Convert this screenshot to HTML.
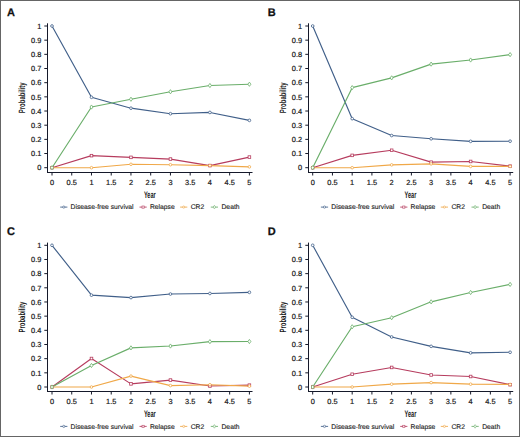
<!DOCTYPE html>
<html><head><meta charset="utf-8"><style>
html,body{margin:0;padding:0;background:#fff;}
body{width:520px;height:437px;overflow:hidden;}
svg{display:block;}
text{font-family:"Liberation Sans",sans-serif;text-rendering:geometricPrecision;}
.pl{font-size:11px;font-weight:bold;fill:#111;stroke:#111;stroke-width:0.25px;}
.tk{font-size:7.4px;fill:#151515;stroke:#151515;stroke-width:0.18px;}
.at{font-size:9.1px;font-weight:bold;fill:#1a1a1a;}
.lg{font-size:6.75px;fill:#1a1a1a;stroke:#1a1a1a;stroke-width:0.12px;}
</style></head><body>
<svg width="520" height="437" viewBox="0 0 520 437">
<rect x="0" y="0" width="520" height="437" fill="#fff"/>

<g transform="translate(0,0)">
<text x="7" y="15.8" class="pl">A</text>
<path d="M47.5 23.3V173" stroke="#15192a" stroke-width="1" fill="none"/>
<path d="M47 172.5H252.5" stroke="#15192a" stroke-width="1.1" fill="none"/>
<path d="M44.3 167.7H47.5" stroke="#15192a" stroke-width="1" fill="none"/>
<text x="41.4" y="170.4" class="tk" text-anchor="end">0</text>
<path d="M44.3 153.53H47.5" stroke="#15192a" stroke-width="1" fill="none"/>
<text x="41.4" y="156.23" class="tk" text-anchor="end">0.1</text>
<path d="M44.3 139.36H47.5" stroke="#15192a" stroke-width="1" fill="none"/>
<text x="41.4" y="142.06" class="tk" text-anchor="end">0.2</text>
<path d="M44.3 125.19H47.5" stroke="#15192a" stroke-width="1" fill="none"/>
<text x="41.4" y="127.89" class="tk" text-anchor="end">0.3</text>
<path d="M44.3 111.02H47.5" stroke="#15192a" stroke-width="1" fill="none"/>
<text x="41.4" y="113.72" class="tk" text-anchor="end">0.4</text>
<path d="M44.3 96.85H47.5" stroke="#15192a" stroke-width="1" fill="none"/>
<text x="41.4" y="99.55" class="tk" text-anchor="end">0.5</text>
<path d="M44.3 82.68H47.5" stroke="#15192a" stroke-width="1" fill="none"/>
<text x="41.4" y="85.38" class="tk" text-anchor="end">0.6</text>
<path d="M44.3 68.51H47.5" stroke="#15192a" stroke-width="1" fill="none"/>
<text x="41.4" y="71.21" class="tk" text-anchor="end">0.7</text>
<path d="M44.3 54.34H47.5" stroke="#15192a" stroke-width="1" fill="none"/>
<text x="41.4" y="57.04" class="tk" text-anchor="end">0.8</text>
<path d="M44.3 40.17H47.5" stroke="#15192a" stroke-width="1" fill="none"/>
<text x="41.4" y="42.87" class="tk" text-anchor="end">0.9</text>
<path d="M44.3 26H47.5" stroke="#15192a" stroke-width="1" fill="none"/>
<text x="41.4" y="28.7" class="tk" text-anchor="end">1</text>
<path d="M52 172.5V175.5" stroke="#15192a" stroke-width="1" fill="none"/>
<text x="52" y="184.9" class="tk" text-anchor="middle">0</text>
<path d="M71.74 172.5V175.5" stroke="#15192a" stroke-width="1" fill="none"/>
<text x="71.74" y="184.9" class="tk" text-anchor="middle">0.5</text>
<path d="M91.48 172.5V175.5" stroke="#15192a" stroke-width="1" fill="none"/>
<text x="91.48" y="184.9" class="tk" text-anchor="middle">1</text>
<path d="M111.22 172.5V175.5" stroke="#15192a" stroke-width="1" fill="none"/>
<text x="111.22" y="184.9" class="tk" text-anchor="middle">1.5</text>
<path d="M130.96 172.5V175.5" stroke="#15192a" stroke-width="1" fill="none"/>
<text x="130.96" y="184.9" class="tk" text-anchor="middle">2</text>
<path d="M150.7 172.5V175.5" stroke="#15192a" stroke-width="1" fill="none"/>
<text x="150.7" y="184.9" class="tk" text-anchor="middle">2.5</text>
<path d="M170.44 172.5V175.5" stroke="#15192a" stroke-width="1" fill="none"/>
<text x="170.44" y="184.9" class="tk" text-anchor="middle">3</text>
<path d="M190.18 172.5V175.5" stroke="#15192a" stroke-width="1" fill="none"/>
<text x="190.18" y="184.9" class="tk" text-anchor="middle">3.5</text>
<path d="M209.92 172.5V175.5" stroke="#15192a" stroke-width="1" fill="none"/>
<text x="209.92" y="184.9" class="tk" text-anchor="middle">4</text>
<path d="M229.66 172.5V175.5" stroke="#15192a" stroke-width="1" fill="none"/>
<text x="229.66" y="184.9" class="tk" text-anchor="middle">4.5</text>
<path d="M249.4 172.5V175.5" stroke="#15192a" stroke-width="1" fill="none"/>
<text x="249.4" y="184.9" class="tk" text-anchor="middle">5</text>
<text x="0" y="0" class="at" text-anchor="middle" style="font-size:9.6px" transform="translate(149.8,197.6) scale(0.58,1)">Year</text>
<text x="0" y="0" class="at" text-anchor="middle" transform="translate(25.1,97.8) rotate(-90) scale(0.655,1)">Probability</text>
<path d="M52 26L91.48 97.28L130.96 108.19L170.44 113.71L209.92 112.44L249.4 120.37" stroke="#405f89" stroke-width="1.15" fill="none" stroke-linejoin="round"/>
<path d="M52 167.7L91.48 155.66L130.96 157.36L170.44 159.06L209.92 165.57L249.4 157.07" stroke="#b63c5e" stroke-width="1.15" fill="none" stroke-linejoin="round"/>
<path d="M52 167.7L91.48 167.7L130.96 164.3L170.44 164.72L209.92 165.57L249.4 166.85" stroke="#f0a848" stroke-width="1.15" fill="none" stroke-linejoin="round"/>
<path d="M52 167.7L91.48 107.05L130.96 99.26L170.44 91.75L209.92 85.51L249.4 84.24" stroke="#6aae6a" stroke-width="1.15" fill="none" stroke-linejoin="round"/>
<circle cx="52" cy="26" r="1.35" fill="#fff" stroke="#405f89" stroke-width="0.8"/>
<circle cx="91.48" cy="97.28" r="1.35" fill="#fff" stroke="#405f89" stroke-width="0.8"/>
<circle cx="130.96" cy="108.19" r="1.35" fill="#fff" stroke="#405f89" stroke-width="0.8"/>
<circle cx="170.44" cy="113.71" r="1.35" fill="#fff" stroke="#405f89" stroke-width="0.8"/>
<circle cx="209.92" cy="112.44" r="1.35" fill="#fff" stroke="#405f89" stroke-width="0.8"/>
<circle cx="249.4" cy="120.37" r="1.35" fill="#fff" stroke="#405f89" stroke-width="0.8"/>
<rect x="50.7" y="166.4" width="2.6" height="2.6" fill="#fff" stroke="#b63c5e" stroke-width="0.8"/>
<rect x="90.18" y="154.36" width="2.6" height="2.6" fill="#fff" stroke="#b63c5e" stroke-width="0.8"/>
<rect x="129.66" y="156.06" width="2.6" height="2.6" fill="#fff" stroke="#b63c5e" stroke-width="0.8"/>
<rect x="169.14" y="157.76" width="2.6" height="2.6" fill="#fff" stroke="#b63c5e" stroke-width="0.8"/>
<rect x="208.62" y="164.27" width="2.6" height="2.6" fill="#fff" stroke="#b63c5e" stroke-width="0.8"/>
<rect x="248.1" y="155.77" width="2.6" height="2.6" fill="#fff" stroke="#b63c5e" stroke-width="0.8"/>
<circle cx="52" cy="167.7" r="1.3" fill="#fff" stroke="#f0a848" stroke-width="0.8"/>
<circle cx="91.48" cy="167.7" r="1.3" fill="#fff" stroke="#f0a848" stroke-width="0.8"/>
<circle cx="130.96" cy="164.3" r="1.3" fill="#fff" stroke="#f0a848" stroke-width="0.8"/>
<circle cx="170.44" cy="164.72" r="1.3" fill="#fff" stroke="#f0a848" stroke-width="0.8"/>
<circle cx="209.92" cy="165.57" r="1.3" fill="#fff" stroke="#f0a848" stroke-width="0.8"/>
<circle cx="249.4" cy="166.85" r="1.3" fill="#fff" stroke="#f0a848" stroke-width="0.8"/>
<path d="M52 165.6L53.5 167.7L52 169.8L50.5 167.7Z" fill="#fff" stroke="#6aae6a" stroke-width="0.8"/>
<path d="M91.48 104.95L92.98 107.05L91.48 109.15L89.98 107.05Z" fill="#fff" stroke="#6aae6a" stroke-width="0.8"/>
<path d="M130.96 97.16L132.46 99.26L130.96 101.36L129.46 99.26Z" fill="#fff" stroke="#6aae6a" stroke-width="0.8"/>
<path d="M170.44 89.65L171.94 91.75L170.44 93.85L168.94 91.75Z" fill="#fff" stroke="#6aae6a" stroke-width="0.8"/>
<path d="M209.92 83.41L211.42 85.51L209.92 87.61L208.42 85.51Z" fill="#fff" stroke="#6aae6a" stroke-width="0.8"/>
<path d="M249.4 82.14L250.9 84.24L249.4 86.34L247.9 84.24Z" fill="#fff" stroke="#6aae6a" stroke-width="0.8"/>
<path d="M60.2 207.1H67.4" stroke="#405f89" stroke-width="1" fill="none" opacity="0.85"/>
<g transform="translate(63.8,207.1) scale(0.85)" opacity="0.85"><circle cx="0" cy="0" r="1.35" fill="#fff" stroke="#405f89" stroke-width="0.8"/></g>
<text x="70.6" y="209.4" class="lg">Disease-free survival</text>
<path d="M139.5 207.1H146.7" stroke="#b63c5e" stroke-width="1" fill="none" opacity="0.85"/>
<g transform="translate(143.1,207.1) scale(0.85)" opacity="0.85"><rect x="-1.3" y="-1.3" width="2.6" height="2.6" fill="#fff" stroke="#b63c5e" stroke-width="0.8"/></g>
<text x="149.9" y="209.4" class="lg">Relapse</text>
<path d="M180.1 207.1H187.3" stroke="#f0a848" stroke-width="1" fill="none" opacity="0.85"/>
<g transform="translate(183.7,207.1) scale(0.85)" opacity="0.85"><circle cx="0" cy="0" r="1.3" fill="#fff" stroke="#f0a848" stroke-width="0.8"/></g>
<text x="190.7" y="209.4" class="lg">CR2</text>
<path d="M210.8 207.1H218" stroke="#6aae6a" stroke-width="1" fill="none" opacity="0.85"/>
<g transform="translate(214.4,207.1) scale(0.85)" opacity="0.85"><path d="M0 -2.1L1.5 0L0 2.1L-1.5 0Z" fill="#fff" stroke="#6aae6a" stroke-width="0.8"/></g>
<text x="221.5" y="209.4" class="lg">Death</text>
</g>
<g transform="translate(260.7,0)">
<text x="7" y="15.8" class="pl">B</text>
<path d="M47.8 23.3V173" stroke="#15192a" stroke-width="1" fill="none"/>
<path d="M47.3 172.5H252.5" stroke="#15192a" stroke-width="1.1" fill="none"/>
<path d="M44.6 167.7H47.8" stroke="#15192a" stroke-width="1" fill="none"/>
<text x="41.4" y="170.4" class="tk" text-anchor="end">0</text>
<path d="M44.6 153.53H47.8" stroke="#15192a" stroke-width="1" fill="none"/>
<text x="41.4" y="156.23" class="tk" text-anchor="end">0.1</text>
<path d="M44.6 139.36H47.8" stroke="#15192a" stroke-width="1" fill="none"/>
<text x="41.4" y="142.06" class="tk" text-anchor="end">0.2</text>
<path d="M44.6 125.19H47.8" stroke="#15192a" stroke-width="1" fill="none"/>
<text x="41.4" y="127.89" class="tk" text-anchor="end">0.3</text>
<path d="M44.6 111.02H47.8" stroke="#15192a" stroke-width="1" fill="none"/>
<text x="41.4" y="113.72" class="tk" text-anchor="end">0.4</text>
<path d="M44.6 96.85H47.8" stroke="#15192a" stroke-width="1" fill="none"/>
<text x="41.4" y="99.55" class="tk" text-anchor="end">0.5</text>
<path d="M44.6 82.68H47.8" stroke="#15192a" stroke-width="1" fill="none"/>
<text x="41.4" y="85.38" class="tk" text-anchor="end">0.6</text>
<path d="M44.6 68.51H47.8" stroke="#15192a" stroke-width="1" fill="none"/>
<text x="41.4" y="71.21" class="tk" text-anchor="end">0.7</text>
<path d="M44.6 54.34H47.8" stroke="#15192a" stroke-width="1" fill="none"/>
<text x="41.4" y="57.04" class="tk" text-anchor="end">0.8</text>
<path d="M44.6 40.17H47.8" stroke="#15192a" stroke-width="1" fill="none"/>
<text x="41.4" y="42.87" class="tk" text-anchor="end">0.9</text>
<path d="M44.6 26H47.8" stroke="#15192a" stroke-width="1" fill="none"/>
<text x="41.4" y="28.7" class="tk" text-anchor="end">1</text>
<path d="M52 172.5V175.5" stroke="#15192a" stroke-width="1" fill="none"/>
<text x="52" y="184.9" class="tk" text-anchor="middle">0</text>
<path d="M71.74 172.5V175.5" stroke="#15192a" stroke-width="1" fill="none"/>
<text x="71.74" y="184.9" class="tk" text-anchor="middle">0.5</text>
<path d="M91.48 172.5V175.5" stroke="#15192a" stroke-width="1" fill="none"/>
<text x="91.48" y="184.9" class="tk" text-anchor="middle">1</text>
<path d="M111.22 172.5V175.5" stroke="#15192a" stroke-width="1" fill="none"/>
<text x="111.22" y="184.9" class="tk" text-anchor="middle">1.5</text>
<path d="M130.96 172.5V175.5" stroke="#15192a" stroke-width="1" fill="none"/>
<text x="130.96" y="184.9" class="tk" text-anchor="middle">2</text>
<path d="M150.7 172.5V175.5" stroke="#15192a" stroke-width="1" fill="none"/>
<text x="150.7" y="184.9" class="tk" text-anchor="middle">2.5</text>
<path d="M170.44 172.5V175.5" stroke="#15192a" stroke-width="1" fill="none"/>
<text x="170.44" y="184.9" class="tk" text-anchor="middle">3</text>
<path d="M190.18 172.5V175.5" stroke="#15192a" stroke-width="1" fill="none"/>
<text x="190.18" y="184.9" class="tk" text-anchor="middle">3.5</text>
<path d="M209.92 172.5V175.5" stroke="#15192a" stroke-width="1" fill="none"/>
<text x="209.92" y="184.9" class="tk" text-anchor="middle">4</text>
<path d="M229.66 172.5V175.5" stroke="#15192a" stroke-width="1" fill="none"/>
<text x="229.66" y="184.9" class="tk" text-anchor="middle">4.5</text>
<path d="M249.4 172.5V175.5" stroke="#15192a" stroke-width="1" fill="none"/>
<text x="249.4" y="184.9" class="tk" text-anchor="middle">5</text>
<text x="0" y="0" class="at" text-anchor="middle" style="font-size:9.6px" transform="translate(149.8,197.6) scale(0.58,1)">Year</text>
<text x="0" y="0" class="at" text-anchor="middle" transform="translate(25.1,97.8) rotate(-90) scale(0.655,1)">Probability</text>
<path d="M52 26L91.48 118.67L130.96 135.53L170.44 138.79L209.92 141.34L249.4 141.2" stroke="#405f89" stroke-width="1.15" fill="none" stroke-linejoin="round"/>
<path d="M52 167.7L91.48 155.37L130.96 150.27L170.44 162.17L209.92 161.47L249.4 166.14" stroke="#b63c5e" stroke-width="1.15" fill="none" stroke-linejoin="round"/>
<path d="M52 167.7L91.48 167.7L130.96 164.87L170.44 163.87L209.92 166.42L249.4 166.42" stroke="#f0a848" stroke-width="1.15" fill="none" stroke-linejoin="round"/>
<path d="M52 167.7L91.48 87.64L130.96 77.86L170.44 64.12L209.92 60.01L249.4 54.62" stroke="#6aae6a" stroke-width="1.15" fill="none" stroke-linejoin="round"/>
<circle cx="52" cy="26" r="1.35" fill="#fff" stroke="#405f89" stroke-width="0.8"/>
<circle cx="91.48" cy="118.67" r="1.35" fill="#fff" stroke="#405f89" stroke-width="0.8"/>
<circle cx="130.96" cy="135.53" r="1.35" fill="#fff" stroke="#405f89" stroke-width="0.8"/>
<circle cx="170.44" cy="138.79" r="1.35" fill="#fff" stroke="#405f89" stroke-width="0.8"/>
<circle cx="209.92" cy="141.34" r="1.35" fill="#fff" stroke="#405f89" stroke-width="0.8"/>
<circle cx="249.4" cy="141.2" r="1.35" fill="#fff" stroke="#405f89" stroke-width="0.8"/>
<rect x="50.7" y="166.4" width="2.6" height="2.6" fill="#fff" stroke="#b63c5e" stroke-width="0.8"/>
<rect x="90.18" y="154.07" width="2.6" height="2.6" fill="#fff" stroke="#b63c5e" stroke-width="0.8"/>
<rect x="129.66" y="148.97" width="2.6" height="2.6" fill="#fff" stroke="#b63c5e" stroke-width="0.8"/>
<rect x="169.14" y="160.87" width="2.6" height="2.6" fill="#fff" stroke="#b63c5e" stroke-width="0.8"/>
<rect x="208.62" y="160.17" width="2.6" height="2.6" fill="#fff" stroke="#b63c5e" stroke-width="0.8"/>
<rect x="248.1" y="164.84" width="2.6" height="2.6" fill="#fff" stroke="#b63c5e" stroke-width="0.8"/>
<circle cx="52" cy="167.7" r="1.3" fill="#fff" stroke="#f0a848" stroke-width="0.8"/>
<circle cx="91.48" cy="167.7" r="1.3" fill="#fff" stroke="#f0a848" stroke-width="0.8"/>
<circle cx="130.96" cy="164.87" r="1.3" fill="#fff" stroke="#f0a848" stroke-width="0.8"/>
<circle cx="170.44" cy="163.87" r="1.3" fill="#fff" stroke="#f0a848" stroke-width="0.8"/>
<circle cx="209.92" cy="166.42" r="1.3" fill="#fff" stroke="#f0a848" stroke-width="0.8"/>
<circle cx="249.4" cy="166.42" r="1.3" fill="#fff" stroke="#f0a848" stroke-width="0.8"/>
<path d="M52 165.6L53.5 167.7L52 169.8L50.5 167.7Z" fill="#fff" stroke="#6aae6a" stroke-width="0.8"/>
<path d="M91.48 85.54L92.98 87.64L91.48 89.74L89.98 87.64Z" fill="#fff" stroke="#6aae6a" stroke-width="0.8"/>
<path d="M130.96 75.76L132.46 77.86L130.96 79.96L129.46 77.86Z" fill="#fff" stroke="#6aae6a" stroke-width="0.8"/>
<path d="M170.44 62.02L171.94 64.12L170.44 66.22L168.94 64.12Z" fill="#fff" stroke="#6aae6a" stroke-width="0.8"/>
<path d="M209.92 57.91L211.42 60.01L209.92 62.11L208.42 60.01Z" fill="#fff" stroke="#6aae6a" stroke-width="0.8"/>
<path d="M249.4 52.52L250.9 54.62L249.4 56.72L247.9 54.62Z" fill="#fff" stroke="#6aae6a" stroke-width="0.8"/>
<path d="M60.2 207.1H67.4" stroke="#405f89" stroke-width="1" fill="none" opacity="0.85"/>
<g transform="translate(63.8,207.1) scale(0.85)" opacity="0.85"><circle cx="0" cy="0" r="1.35" fill="#fff" stroke="#405f89" stroke-width="0.8"/></g>
<text x="70.6" y="209.4" class="lg">Disease-free survival</text>
<path d="M139.5 207.1H146.7" stroke="#b63c5e" stroke-width="1" fill="none" opacity="0.85"/>
<g transform="translate(143.1,207.1) scale(0.85)" opacity="0.85"><rect x="-1.3" y="-1.3" width="2.6" height="2.6" fill="#fff" stroke="#b63c5e" stroke-width="0.8"/></g>
<text x="149.9" y="209.4" class="lg">Relapse</text>
<path d="M180.1 207.1H187.3" stroke="#f0a848" stroke-width="1" fill="none" opacity="0.85"/>
<g transform="translate(183.7,207.1) scale(0.85)" opacity="0.85"><circle cx="0" cy="0" r="1.3" fill="#fff" stroke="#f0a848" stroke-width="0.8"/></g>
<text x="190.7" y="209.4" class="lg">CR2</text>
<path d="M210.8 207.1H218" stroke="#6aae6a" stroke-width="1" fill="none" opacity="0.85"/>
<g transform="translate(214.4,207.1) scale(0.85)" opacity="0.85"><path d="M0 -2.1L1.5 0L0 2.1L-1.5 0Z" fill="#fff" stroke="#6aae6a" stroke-width="0.8"/></g>
<text x="221.5" y="209.4" class="lg">Death</text>
</g>
<g transform="translate(0,219.3)">
<text x="7" y="15.8" class="pl">C</text>
<path d="M47.5 23.3V172.7" stroke="#15192a" stroke-width="1" fill="none"/>
<path d="M47 172.2H252.5" stroke="#15192a" stroke-width="1.1" fill="none"/>
<path d="M44.3 167.7H47.5" stroke="#15192a" stroke-width="1" fill="none"/>
<text x="41.4" y="170.4" class="tk" text-anchor="end">0</text>
<path d="M44.3 153.53H47.5" stroke="#15192a" stroke-width="1" fill="none"/>
<text x="41.4" y="156.23" class="tk" text-anchor="end">0.1</text>
<path d="M44.3 139.36H47.5" stroke="#15192a" stroke-width="1" fill="none"/>
<text x="41.4" y="142.06" class="tk" text-anchor="end">0.2</text>
<path d="M44.3 125.19H47.5" stroke="#15192a" stroke-width="1" fill="none"/>
<text x="41.4" y="127.89" class="tk" text-anchor="end">0.3</text>
<path d="M44.3 111.02H47.5" stroke="#15192a" stroke-width="1" fill="none"/>
<text x="41.4" y="113.72" class="tk" text-anchor="end">0.4</text>
<path d="M44.3 96.85H47.5" stroke="#15192a" stroke-width="1" fill="none"/>
<text x="41.4" y="99.55" class="tk" text-anchor="end">0.5</text>
<path d="M44.3 82.68H47.5" stroke="#15192a" stroke-width="1" fill="none"/>
<text x="41.4" y="85.38" class="tk" text-anchor="end">0.6</text>
<path d="M44.3 68.51H47.5" stroke="#15192a" stroke-width="1" fill="none"/>
<text x="41.4" y="71.21" class="tk" text-anchor="end">0.7</text>
<path d="M44.3 54.34H47.5" stroke="#15192a" stroke-width="1" fill="none"/>
<text x="41.4" y="57.04" class="tk" text-anchor="end">0.8</text>
<path d="M44.3 40.17H47.5" stroke="#15192a" stroke-width="1" fill="none"/>
<text x="41.4" y="42.87" class="tk" text-anchor="end">0.9</text>
<path d="M44.3 26H47.5" stroke="#15192a" stroke-width="1" fill="none"/>
<text x="41.4" y="28.7" class="tk" text-anchor="end">1</text>
<path d="M52 172.2V175.2" stroke="#15192a" stroke-width="1" fill="none"/>
<text x="52" y="184.9" class="tk" text-anchor="middle">0</text>
<path d="M71.74 172.2V175.2" stroke="#15192a" stroke-width="1" fill="none"/>
<text x="71.74" y="184.9" class="tk" text-anchor="middle">0.5</text>
<path d="M91.48 172.2V175.2" stroke="#15192a" stroke-width="1" fill="none"/>
<text x="91.48" y="184.9" class="tk" text-anchor="middle">1</text>
<path d="M111.22 172.2V175.2" stroke="#15192a" stroke-width="1" fill="none"/>
<text x="111.22" y="184.9" class="tk" text-anchor="middle">1.5</text>
<path d="M130.96 172.2V175.2" stroke="#15192a" stroke-width="1" fill="none"/>
<text x="130.96" y="184.9" class="tk" text-anchor="middle">2</text>
<path d="M150.7 172.2V175.2" stroke="#15192a" stroke-width="1" fill="none"/>
<text x="150.7" y="184.9" class="tk" text-anchor="middle">2.5</text>
<path d="M170.44 172.2V175.2" stroke="#15192a" stroke-width="1" fill="none"/>
<text x="170.44" y="184.9" class="tk" text-anchor="middle">3</text>
<path d="M190.18 172.2V175.2" stroke="#15192a" stroke-width="1" fill="none"/>
<text x="190.18" y="184.9" class="tk" text-anchor="middle">3.5</text>
<path d="M209.92 172.2V175.2" stroke="#15192a" stroke-width="1" fill="none"/>
<text x="209.92" y="184.9" class="tk" text-anchor="middle">4</text>
<path d="M229.66 172.2V175.2" stroke="#15192a" stroke-width="1" fill="none"/>
<text x="229.66" y="184.9" class="tk" text-anchor="middle">4.5</text>
<path d="M249.4 172.2V175.2" stroke="#15192a" stroke-width="1" fill="none"/>
<text x="249.4" y="184.9" class="tk" text-anchor="middle">5</text>
<text x="0" y="0" class="at" text-anchor="middle" style="font-size:9.6px" transform="translate(149.8,197.6) scale(0.58,1)">Year</text>
<text x="0" y="0" class="at" text-anchor="middle" transform="translate(25.1,97.8) rotate(-90) scale(0.655,1)">Probability</text>
<path d="M52 26L91.48 75.88L130.96 78.29L170.44 74.74L209.92 74.18L249.4 73.04" stroke="#405f89" stroke-width="1.15" fill="none" stroke-linejoin="round"/>
<path d="M52 167.7L91.48 139.22L130.96 164.58L170.44 160.76L209.92 166.71L249.4 165.86" stroke="#b63c5e" stroke-width="1.15" fill="none" stroke-linejoin="round"/>
<path d="M52 167.7L91.48 167.7L130.96 156.79L170.44 166.28L209.92 165.43L249.4 166.85" stroke="#f0a848" stroke-width="1.15" fill="none" stroke-linejoin="round"/>
<path d="M52 167.7L91.48 146.16L130.96 128.59L170.44 126.75L209.92 122.36L249.4 122.21" stroke="#6aae6a" stroke-width="1.15" fill="none" stroke-linejoin="round"/>
<circle cx="52" cy="26" r="1.35" fill="#fff" stroke="#405f89" stroke-width="0.8"/>
<circle cx="91.48" cy="75.88" r="1.35" fill="#fff" stroke="#405f89" stroke-width="0.8"/>
<circle cx="130.96" cy="78.29" r="1.35" fill="#fff" stroke="#405f89" stroke-width="0.8"/>
<circle cx="170.44" cy="74.74" r="1.35" fill="#fff" stroke="#405f89" stroke-width="0.8"/>
<circle cx="209.92" cy="74.18" r="1.35" fill="#fff" stroke="#405f89" stroke-width="0.8"/>
<circle cx="249.4" cy="73.04" r="1.35" fill="#fff" stroke="#405f89" stroke-width="0.8"/>
<rect x="50.7" y="166.4" width="2.6" height="2.6" fill="#fff" stroke="#b63c5e" stroke-width="0.8"/>
<rect x="90.18" y="137.92" width="2.6" height="2.6" fill="#fff" stroke="#b63c5e" stroke-width="0.8"/>
<rect x="129.66" y="163.28" width="2.6" height="2.6" fill="#fff" stroke="#b63c5e" stroke-width="0.8"/>
<rect x="169.14" y="159.46" width="2.6" height="2.6" fill="#fff" stroke="#b63c5e" stroke-width="0.8"/>
<rect x="208.62" y="165.41" width="2.6" height="2.6" fill="#fff" stroke="#b63c5e" stroke-width="0.8"/>
<rect x="248.1" y="164.56" width="2.6" height="2.6" fill="#fff" stroke="#b63c5e" stroke-width="0.8"/>
<circle cx="52" cy="167.7" r="1.3" fill="#fff" stroke="#f0a848" stroke-width="0.8"/>
<circle cx="91.48" cy="167.7" r="1.3" fill="#fff" stroke="#f0a848" stroke-width="0.8"/>
<circle cx="130.96" cy="156.79" r="1.3" fill="#fff" stroke="#f0a848" stroke-width="0.8"/>
<circle cx="170.44" cy="166.28" r="1.3" fill="#fff" stroke="#f0a848" stroke-width="0.8"/>
<circle cx="209.92" cy="165.43" r="1.3" fill="#fff" stroke="#f0a848" stroke-width="0.8"/>
<circle cx="249.4" cy="166.85" r="1.3" fill="#fff" stroke="#f0a848" stroke-width="0.8"/>
<path d="M52 165.6L53.5 167.7L52 169.8L50.5 167.7Z" fill="#fff" stroke="#6aae6a" stroke-width="0.8"/>
<path d="M91.48 144.06L92.98 146.16L91.48 148.26L89.98 146.16Z" fill="#fff" stroke="#6aae6a" stroke-width="0.8"/>
<path d="M130.96 126.49L132.46 128.59L130.96 130.69L129.46 128.59Z" fill="#fff" stroke="#6aae6a" stroke-width="0.8"/>
<path d="M170.44 124.65L171.94 126.75L170.44 128.85L168.94 126.75Z" fill="#fff" stroke="#6aae6a" stroke-width="0.8"/>
<path d="M209.92 120.26L211.42 122.36L209.92 124.46L208.42 122.36Z" fill="#fff" stroke="#6aae6a" stroke-width="0.8"/>
<path d="M249.4 120.11L250.9 122.21L249.4 124.31L247.9 122.21Z" fill="#fff" stroke="#6aae6a" stroke-width="0.8"/>
<path d="M60.2 207.1H67.4" stroke="#405f89" stroke-width="1" fill="none" opacity="0.85"/>
<g transform="translate(63.8,207.1) scale(0.85)" opacity="0.85"><circle cx="0" cy="0" r="1.35" fill="#fff" stroke="#405f89" stroke-width="0.8"/></g>
<text x="70.6" y="209.4" class="lg">Disease-free survival</text>
<path d="M139.5 207.1H146.7" stroke="#b63c5e" stroke-width="1" fill="none" opacity="0.85"/>
<g transform="translate(143.1,207.1) scale(0.85)" opacity="0.85"><rect x="-1.3" y="-1.3" width="2.6" height="2.6" fill="#fff" stroke="#b63c5e" stroke-width="0.8"/></g>
<text x="149.9" y="209.4" class="lg">Relapse</text>
<path d="M180.1 207.1H187.3" stroke="#f0a848" stroke-width="1" fill="none" opacity="0.85"/>
<g transform="translate(183.7,207.1) scale(0.85)" opacity="0.85"><circle cx="0" cy="0" r="1.3" fill="#fff" stroke="#f0a848" stroke-width="0.8"/></g>
<text x="190.7" y="209.4" class="lg">CR2</text>
<path d="M210.8 207.1H218" stroke="#6aae6a" stroke-width="1" fill="none" opacity="0.85"/>
<g transform="translate(214.4,207.1) scale(0.85)" opacity="0.85"><path d="M0 -2.1L1.5 0L0 2.1L-1.5 0Z" fill="#fff" stroke="#6aae6a" stroke-width="0.8"/></g>
<text x="221.5" y="209.4" class="lg">Death</text>
</g>
<g transform="translate(260.7,219.3)">
<text x="7" y="15.8" class="pl">D</text>
<path d="M47.8 23.3V172.7" stroke="#15192a" stroke-width="1" fill="none"/>
<path d="M47.3 172.2H252.5" stroke="#15192a" stroke-width="1.1" fill="none"/>
<path d="M44.6 167.7H47.8" stroke="#15192a" stroke-width="1" fill="none"/>
<text x="41.4" y="170.4" class="tk" text-anchor="end">0</text>
<path d="M44.6 153.53H47.8" stroke="#15192a" stroke-width="1" fill="none"/>
<text x="41.4" y="156.23" class="tk" text-anchor="end">0.1</text>
<path d="M44.6 139.36H47.8" stroke="#15192a" stroke-width="1" fill="none"/>
<text x="41.4" y="142.06" class="tk" text-anchor="end">0.2</text>
<path d="M44.6 125.19H47.8" stroke="#15192a" stroke-width="1" fill="none"/>
<text x="41.4" y="127.89" class="tk" text-anchor="end">0.3</text>
<path d="M44.6 111.02H47.8" stroke="#15192a" stroke-width="1" fill="none"/>
<text x="41.4" y="113.72" class="tk" text-anchor="end">0.4</text>
<path d="M44.6 96.85H47.8" stroke="#15192a" stroke-width="1" fill="none"/>
<text x="41.4" y="99.55" class="tk" text-anchor="end">0.5</text>
<path d="M44.6 82.68H47.8" stroke="#15192a" stroke-width="1" fill="none"/>
<text x="41.4" y="85.38" class="tk" text-anchor="end">0.6</text>
<path d="M44.6 68.51H47.8" stroke="#15192a" stroke-width="1" fill="none"/>
<text x="41.4" y="71.21" class="tk" text-anchor="end">0.7</text>
<path d="M44.6 54.34H47.8" stroke="#15192a" stroke-width="1" fill="none"/>
<text x="41.4" y="57.04" class="tk" text-anchor="end">0.8</text>
<path d="M44.6 40.17H47.8" stroke="#15192a" stroke-width="1" fill="none"/>
<text x="41.4" y="42.87" class="tk" text-anchor="end">0.9</text>
<path d="M44.6 26H47.8" stroke="#15192a" stroke-width="1" fill="none"/>
<text x="41.4" y="28.7" class="tk" text-anchor="end">1</text>
<path d="M52 172.2V175.2" stroke="#15192a" stroke-width="1" fill="none"/>
<text x="52" y="184.9" class="tk" text-anchor="middle">0</text>
<path d="M71.74 172.2V175.2" stroke="#15192a" stroke-width="1" fill="none"/>
<text x="71.74" y="184.9" class="tk" text-anchor="middle">0.5</text>
<path d="M91.48 172.2V175.2" stroke="#15192a" stroke-width="1" fill="none"/>
<text x="91.48" y="184.9" class="tk" text-anchor="middle">1</text>
<path d="M111.22 172.2V175.2" stroke="#15192a" stroke-width="1" fill="none"/>
<text x="111.22" y="184.9" class="tk" text-anchor="middle">1.5</text>
<path d="M130.96 172.2V175.2" stroke="#15192a" stroke-width="1" fill="none"/>
<text x="130.96" y="184.9" class="tk" text-anchor="middle">2</text>
<path d="M150.7 172.2V175.2" stroke="#15192a" stroke-width="1" fill="none"/>
<text x="150.7" y="184.9" class="tk" text-anchor="middle">2.5</text>
<path d="M170.44 172.2V175.2" stroke="#15192a" stroke-width="1" fill="none"/>
<text x="170.44" y="184.9" class="tk" text-anchor="middle">3</text>
<path d="M190.18 172.2V175.2" stroke="#15192a" stroke-width="1" fill="none"/>
<text x="190.18" y="184.9" class="tk" text-anchor="middle">3.5</text>
<path d="M209.92 172.2V175.2" stroke="#15192a" stroke-width="1" fill="none"/>
<text x="209.92" y="184.9" class="tk" text-anchor="middle">4</text>
<path d="M229.66 172.2V175.2" stroke="#15192a" stroke-width="1" fill="none"/>
<text x="229.66" y="184.9" class="tk" text-anchor="middle">4.5</text>
<path d="M249.4 172.2V175.2" stroke="#15192a" stroke-width="1" fill="none"/>
<text x="249.4" y="184.9" class="tk" text-anchor="middle">5</text>
<text x="0" y="0" class="at" text-anchor="middle" style="font-size:9.6px" transform="translate(149.8,197.6) scale(0.58,1)">Year</text>
<text x="0" y="0" class="at" text-anchor="middle" transform="translate(25.1,97.8) rotate(-90) scale(0.655,1)">Probability</text>
<path d="M52 26L91.48 97.98L130.96 117.68L170.44 127.03L209.92 133.55L249.4 132.98" stroke="#405f89" stroke-width="1.15" fill="none" stroke-linejoin="round"/>
<path d="M52 167.7L91.48 154.95L130.96 148.15L170.44 155.66L209.92 157.21L249.4 165.43" stroke="#b63c5e" stroke-width="1.15" fill="none" stroke-linejoin="round"/>
<path d="M52 167.7L91.48 167.7L130.96 164.87L170.44 163.31L209.92 164.87L249.4 165.15" stroke="#f0a848" stroke-width="1.15" fill="none" stroke-linejoin="round"/>
<path d="M52 167.7L91.48 107.48L130.96 98.41L170.44 82.54L209.92 73.19L249.4 65.11" stroke="#6aae6a" stroke-width="1.15" fill="none" stroke-linejoin="round"/>
<circle cx="52" cy="26" r="1.35" fill="#fff" stroke="#405f89" stroke-width="0.8"/>
<circle cx="91.48" cy="97.98" r="1.35" fill="#fff" stroke="#405f89" stroke-width="0.8"/>
<circle cx="130.96" cy="117.68" r="1.35" fill="#fff" stroke="#405f89" stroke-width="0.8"/>
<circle cx="170.44" cy="127.03" r="1.35" fill="#fff" stroke="#405f89" stroke-width="0.8"/>
<circle cx="209.92" cy="133.55" r="1.35" fill="#fff" stroke="#405f89" stroke-width="0.8"/>
<circle cx="249.4" cy="132.98" r="1.35" fill="#fff" stroke="#405f89" stroke-width="0.8"/>
<rect x="50.7" y="166.4" width="2.6" height="2.6" fill="#fff" stroke="#b63c5e" stroke-width="0.8"/>
<rect x="90.18" y="153.65" width="2.6" height="2.6" fill="#fff" stroke="#b63c5e" stroke-width="0.8"/>
<rect x="129.66" y="146.85" width="2.6" height="2.6" fill="#fff" stroke="#b63c5e" stroke-width="0.8"/>
<rect x="169.14" y="154.36" width="2.6" height="2.6" fill="#fff" stroke="#b63c5e" stroke-width="0.8"/>
<rect x="208.62" y="155.91" width="2.6" height="2.6" fill="#fff" stroke="#b63c5e" stroke-width="0.8"/>
<rect x="248.1" y="164.13" width="2.6" height="2.6" fill="#fff" stroke="#b63c5e" stroke-width="0.8"/>
<circle cx="52" cy="167.7" r="1.3" fill="#fff" stroke="#f0a848" stroke-width="0.8"/>
<circle cx="91.48" cy="167.7" r="1.3" fill="#fff" stroke="#f0a848" stroke-width="0.8"/>
<circle cx="130.96" cy="164.87" r="1.3" fill="#fff" stroke="#f0a848" stroke-width="0.8"/>
<circle cx="170.44" cy="163.31" r="1.3" fill="#fff" stroke="#f0a848" stroke-width="0.8"/>
<circle cx="209.92" cy="164.87" r="1.3" fill="#fff" stroke="#f0a848" stroke-width="0.8"/>
<circle cx="249.4" cy="165.15" r="1.3" fill="#fff" stroke="#f0a848" stroke-width="0.8"/>
<path d="M52 165.6L53.5 167.7L52 169.8L50.5 167.7Z" fill="#fff" stroke="#6aae6a" stroke-width="0.8"/>
<path d="M91.48 105.38L92.98 107.48L91.48 109.58L89.98 107.48Z" fill="#fff" stroke="#6aae6a" stroke-width="0.8"/>
<path d="M130.96 96.31L132.46 98.41L130.96 100.51L129.46 98.41Z" fill="#fff" stroke="#6aae6a" stroke-width="0.8"/>
<path d="M170.44 80.44L171.94 82.54L170.44 84.64L168.94 82.54Z" fill="#fff" stroke="#6aae6a" stroke-width="0.8"/>
<path d="M209.92 71.09L211.42 73.19L209.92 75.29L208.42 73.19Z" fill="#fff" stroke="#6aae6a" stroke-width="0.8"/>
<path d="M249.4 63.01L250.9 65.11L249.4 67.21L247.9 65.11Z" fill="#fff" stroke="#6aae6a" stroke-width="0.8"/>
<path d="M60.2 207.1H67.4" stroke="#405f89" stroke-width="1" fill="none" opacity="0.85"/>
<g transform="translate(63.8,207.1) scale(0.85)" opacity="0.85"><circle cx="0" cy="0" r="1.35" fill="#fff" stroke="#405f89" stroke-width="0.8"/></g>
<text x="70.6" y="209.4" class="lg">Disease-free survival</text>
<path d="M139.5 207.1H146.7" stroke="#b63c5e" stroke-width="1" fill="none" opacity="0.85"/>
<g transform="translate(143.1,207.1) scale(0.85)" opacity="0.85"><rect x="-1.3" y="-1.3" width="2.6" height="2.6" fill="#fff" stroke="#b63c5e" stroke-width="0.8"/></g>
<text x="149.9" y="209.4" class="lg">Relapse</text>
<path d="M180.1 207.1H187.3" stroke="#f0a848" stroke-width="1" fill="none" opacity="0.85"/>
<g transform="translate(183.7,207.1) scale(0.85)" opacity="0.85"><circle cx="0" cy="0" r="1.3" fill="#fff" stroke="#f0a848" stroke-width="0.8"/></g>
<text x="190.7" y="209.4" class="lg">CR2</text>
<path d="M210.8 207.1H218" stroke="#6aae6a" stroke-width="1" fill="none" opacity="0.85"/>
<g transform="translate(214.4,207.1) scale(0.85)" opacity="0.85"><path d="M0 -2.1L1.5 0L0 2.1L-1.5 0Z" fill="#fff" stroke="#6aae6a" stroke-width="0.8"/></g>
<text x="221.5" y="209.4" class="lg">Death</text>
</g>
<rect x="0.5" y="0.5" width="519" height="436" fill="none" stroke="#656565" stroke-width="1"/>
</svg>
</body></html>
